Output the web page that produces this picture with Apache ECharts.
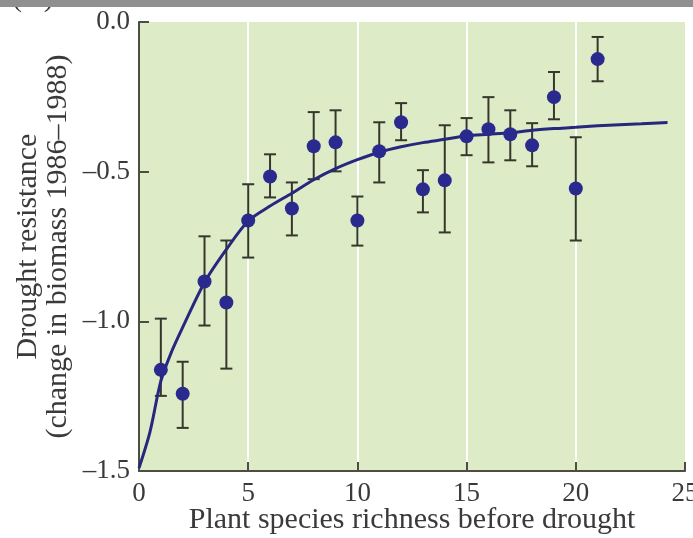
<!DOCTYPE html>
<html>
<head>
<meta charset="utf-8">
<script src="https://cdn.jsdelivr.net/npm/echarts@6/dist/echarts.min.js"></script>
<style>
html,body{margin:0;padding:0;background:#fff;overflow:hidden;}
#c{width:693px;height:538px;}
</style>
</head>
<body>
<div id="c"></div>
<script>
// Species richness (x) for each plot group
const richness = [1,2,3,4,5,6,7,8,9,10,11,12,13,14,15,16,17,18,19,20,21];
// Mean drought resistance
const meanResistance = [-1.162,-1.242,-0.867,-0.937,-0.663,-0.516,-0.623,-0.415,-0.402,-0.663,-0.432,-0.335,-0.559,-0.529,-0.382,-0.358,-0.375,-0.412,-0.251,-0.556,-0.124];
// Lower end of error bar
const errLow = [-1.249,-1.356,-1.014,-1.158,-0.787,-0.586,-0.713,-0.525,-0.499,-0.747,-0.536,-0.395,-0.636,-0.703,-0.445,-0.469,-0.462,-0.482,-0.325,-0.730,-0.198];
// Upper end of error bar
const errHigh = [-0.991,-1.135,-0.716,-0.730,-0.542,-0.442,-0.536,-0.301,-0.295,-0.583,-0.335,-0.271,-0.495,-0.345,-0.321,-0.251,-0.295,-0.338,-0.167,-0.385,-0.050];
// Fitted curve
const curveX = [0,0.5,1,1.5,2,3,4,5,6,7,8,9,10,11,12,13,14,15,16,17,18,19,20,21,22,23,24.2];
const curveY = [-1.49,-1.37,-1.20,-1.10,-1.02,-0.87,-0.76,-0.665,-0.615,-0.572,-0.527,-0.49,-0.46,-0.435,-0.417,-0.403,-0.392,-0.38,-0.375,-0.37,-0.362,-0.356,-0.352,-0.347,-0.343,-0.34,-0.336];
// Axis ticks
const xTicks = {min:0, max:25, interval:5};
const yTicks = {min:-1.5, max:0, interval:0.5};

const FONT = "'Liberation Serif','Times New Roman',serif";
const TXT = '#3a3a3a';
const AX = '#4d4d45';

const chart = echarts.init(document.getElementById('c'), null, {renderer:'canvas'});
const errData = richness.map((x,i)=>[x, errLow[i], errHigh[i]]);
const ptData = richness.map((x,i)=>[x, meanResistance[i]]);
const curveData = curveX.map((x,i)=>[x, curveY[i]]);

chart.setOption({
  animation:false,
  backgroundColor:'#ffffff',
  grid:{left:139, top:22, right:8, bottom:67, show:true, backgroundColor:'#deebc7', borderWidth:0,
        containLabel:false, outerBoundsMode:'none'},
  xAxis:{
    type:'value', min:xTicks.min, max:xTicks.max, interval:xTicks.interval,
    name:'Plant species richness before drought', nameLocation:'middle', nameGap:34, nameMoveOverlap:false,
    nameTextStyle:{fontFamily:FONT, fontSize:30, color:TXT},
    axisLine:{show:true, onZero:false, lineStyle:{color:AX, width:2}},
    axisTick:{show:true, inside:true, length:9, lineStyle:{color:AX, width:2}},
    axisLabel:{fontFamily:FONT, fontSize:27, color:TXT, margin:9, hideOverlap:false},
    splitLine:{show:true, showMinLine:false, showMaxLine:false, lineStyle:{color:'#ffffff', width:2}}
  },
  yAxis:{
    type:'value', min:yTicks.min, max:yTicks.max, interval:yTicks.interval,
    name:'Drought resistance\n(change in biomass 1986\u20131988)', nameLocation:'middle', nameGap:66, nameRotate:90,
    nameMoveOverlap:false,
    nameTextStyle:{fontFamily:FONT, fontSize:30, color:TXT, lineHeight:30},
    axisLine:{show:true, onZero:false, lineStyle:{color:AX, width:2}},
    axisTick:{show:true, inside:true, length:10, lineStyle:{color:AX, width:2}},
    axisLabel:{fontFamily:FONT, fontSize:27, color:TXT, margin:9,
      formatter:v=>v.toFixed(1).replace('-','\u2013')},
    splitLine:{show:false}
  },
  graphic:[
    {type:'text', x:12, y:-17, z:50, style:{text:'(A)', font:"30px 'Liberation Serif'", fill:TXT}},
    {type:'rect', shape:{x:0,y:0,width:693,height:7}, style:{fill:'#909090'}, z:100}
  ],
  series:[
    {
      type:'custom', z:2,
      data:errData,
      renderItem:function(params, api){
        const x = api.value(0);
        const top = api.coord([x, api.value(2)]);
        const bot = api.coord([x, api.value(1)]);
        const w = 6;
        const st = {stroke:'#36372b', lineWidth:2};
        return {type:'group', children:[
          {type:'line', shape:{x1:top[0], y1:top[1], x2:bot[0], y2:bot[1]}, style:st},
          {type:'line', shape:{x1:top[0]-w, y1:top[1], x2:top[0]+w, y2:top[1]}, style:st},
          {type:'line', shape:{x1:bot[0]-w, y1:bot[1], x2:bot[0]+w, y2:bot[1]}, style:st}
        ]};
      }
    },
    {
      type:'line', z:3, data:curveData, smooth:0.3, showSymbol:false, symbol:'none',
      lineStyle:{color:'#26277d', width:3}
    },
    {
      type:'scatter', z:4, data:ptData, symbol:'circle', symbolSize:14,
      itemStyle:{color:'#2a2a8e', opacity:1}
    }
  ]
});
</script>
</body>
</html>
